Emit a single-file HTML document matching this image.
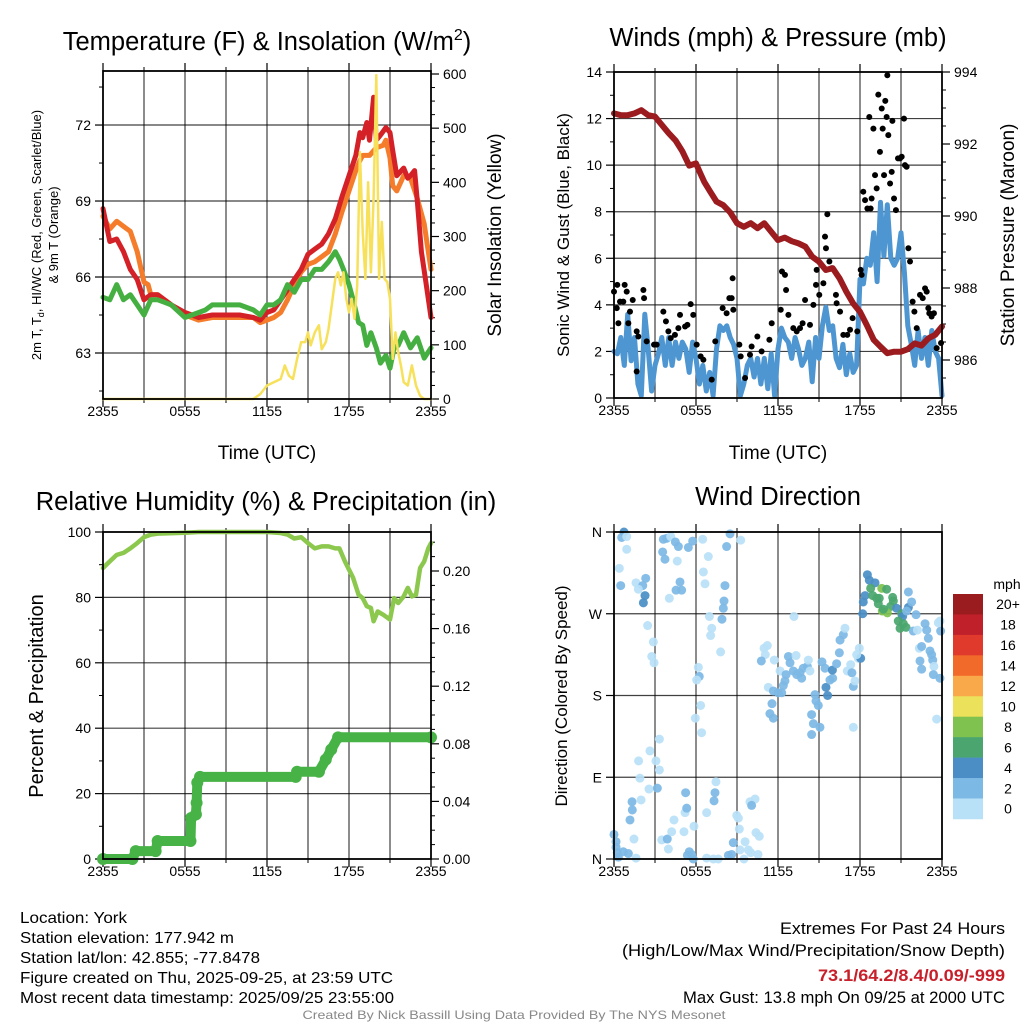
<!DOCTYPE html>
<html><head><meta charset="utf-8"><title>Station Meteogram</title>
<style>
html,body{margin:0;padding:0;background:#fff;}
svg{display:block;font-family:"Liberation Sans",Arial,sans-serif;}
</style></head>
<body>
<svg id="chart" width="1024" height="1024" viewBox="0 0 1024 1024" xmlns="http://www.w3.org/2000/svg">
<rect width="1024" height="1024" fill="#fff"/>
<g id="p1"></g>
<g id="p2"></g>
<g id="p3"></g>
<g id="p4"></g>

<text x="267" y="50" font-size="25.5" text-anchor="middle">Temperature (F) &amp; Insolation (W/m<tspan font-size="16" dy="-10">2</tspan><tspan dy="10">)</tspan></text>
<text x="778" y="46" font-size="25.5" text-anchor="middle">Winds (mph) &amp; Pressure (mb)</text>
<text x="266" y="510" font-size="25.5" text-anchor="middle">Relative Humidity (%) &amp; Precipitation (in)</text>
<text x="778" y="505" font-size="25.5" text-anchor="middle">Wind Direction</text>

<text x="267" y="459" font-size="19" text-anchor="middle">Time (UTC)</text>
<text x="778" y="459" font-size="19" text-anchor="middle">Time (UTC)</text>

<text transform="translate(41,235) rotate(-90)" font-size="13" text-anchor="middle">2m T, T<tspan font-size="9" dy="3">d</tspan><tspan dy="-3">, HI/WC (Red, Green, Scarlet/Blue)</tspan></text>
<text transform="translate(58,235) rotate(-90)" font-size="13" text-anchor="middle">&amp; 9m T (Orange)</text>
<text transform="translate(501,235) rotate(-90)" font-size="19" text-anchor="middle">Solar Insolation (Yellow)</text>
<text transform="translate(569,235) rotate(-90)" font-size="17" text-anchor="middle">Sonic Wind &amp; Gust (Blue, Black)</text>
<text transform="translate(1014,235) rotate(-90)" font-size="19" text-anchor="middle">Station Pressure (Maroon)</text>
<text transform="translate(43,696) rotate(-90)" font-size="20" text-anchor="middle">Percent &amp; Precipitation</text>
<text transform="translate(567,696) rotate(-90)" font-size="17" text-anchor="middle">Direction (Colored By Speed)</text>

<g font-size="16">
<text x="20" y="923" textLength="107" lengthAdjust="spacingAndGlyphs">Location: York</text>
<text x="20" y="943" textLength="214" lengthAdjust="spacingAndGlyphs">Station elevation: 177.942 m</text>
<text x="20" y="963" textLength="240" lengthAdjust="spacingAndGlyphs">Station lat/lon: 42.855; -77.8478</text>
<text x="20" y="983" textLength="373" lengthAdjust="spacingAndGlyphs">Figure created on Thu, 2025-09-25, at 23:59 UTC</text>
<text x="20" y="1003" textLength="374" lengthAdjust="spacingAndGlyphs">Most recent data timestamp: 2025/09/25 23:55:00</text>
</g>
<g font-size="17">
<text x="780" y="934" textLength="225" lengthAdjust="spacingAndGlyphs">Extremes For Past 24 Hours</text>
<text x="622" y="956" textLength="383" lengthAdjust="spacingAndGlyphs">(High/Low/Max Wind/Precipitation/Snow Depth)</text>
<text x="818" y="981" textLength="187" lengthAdjust="spacingAndGlyphs" fill="#c8202a" font-weight="bold">73.1/64.2/8.4/0.09/-999</text>
<text x="683" y="1003" textLength="322" lengthAdjust="spacingAndGlyphs">Max Gust: 13.8 mph On 09/25 at 2000 UTC</text>
</g>
<text x="514" y="1019" font-size="12" fill="#888" text-anchor="middle" textLength="423" lengthAdjust="spacingAndGlyphs">Created By Nick Bassill Using Data Provided By The NYS Mesonet</text>
</svg>

<script>
// ---------- Temperature panel data ----------
const timeTickLabels = ["2355","0555","1155","1755","2355"];
const tempTickLabels = [63,66,69,72];
const solarTickLabels = [0,100,200,300,400,500,600];
const redHours = [0,0.5,1,1.5,2,2.5,3,3.5,4,5,6,7,8,9,10,11,11.5,12,12.5,13,13.5,14,14.5,15,15.5,16,16.5,17,17.5,18,18.5,18.8,19,19.3,19.5,19.8,20,20.3,20.7,21,21.2,21.5,22,22.3,22.5,22.8,23,23.3,23.6,24];
const redTemps = [68.7,67.4,67.5,67.0,66.3,65.9,65.1,65.3,65.3,64.9,64.6,64.4,64.5,64.5,64.5,64.4,64.3,64.6,64.7,65.1,65.5,65.9,66.3,66.9,67.1,67.3,67.7,68.3,69.2,70.0,70.8,71.7,71.5,72.1,71.4,73.1,71.4,71.6,71.9,71.7,71.0,70.0,70.3,69.9,70.0,70.2,69.0,67.0,65.9,64.4];
const orangeHours = [0,0.5,1,1.5,2,2.5,3,3.3,3.5,4,5,6,7,8,9,10,11,11.5,12,12.5,13,13.5,14,14.5,15,15.5,16,16.5,17,17.5,18,18.5,18.8,19,19.5,20,20.5,20.7,21,21.2,21.5,22,22.5,23,23.5,23.8,24];
const orangeTemps = [68.4,67.9,68.2,68.0,67.8,67.0,65.8,65.7,65.3,65.3,64.9,64.5,64.3,64.4,64.4,64.4,64.4,64.2,64.3,64.4,64.6,65.1,65.7,66.2,66.5,66.6,66.8,67.0,67.7,68.6,69.4,70.2,70.6,70.8,70.8,71.1,71.2,71.4,70.7,69.6,69.4,70.0,69.9,69.1,68.1,67.0,66.3];
const greenHours = [0,0.5,1,1.5,2,2.5,3,3.5,4,4.5,5,6,6.5,7,7.5,8,9,10,11,11.5,12,12.5,13,13.5,14,14.5,15,15.5,16,16.5,17,17.3,17.6,18,18.3,18.7,19,19.3,19.6,20,20.3,20.7,21,21.3,21.6,22,22.5,23,23.5,24];
const greenTemps = [65.2,65.1,65.7,65.1,65.3,64.9,64.5,65.1,65.1,65.0,64.9,64.4,64.5,64.6,64.7,64.9,64.9,64.9,64.7,64.5,64.9,64.9,65.1,65.7,65.4,65.9,65.9,66.3,66.3,66.6,67.0,66.7,66.3,65.7,65.1,64.2,64.1,63.3,63.8,63.2,62.6,62.9,62.4,63.2,63.3,63.8,63.2,63.6,62.8,63.2];
const solarHours = [0,11,11.5,12,12.5,13,13.3,13.6,13.9,14.2,14.5,14.8,15,15.2,15.5,15.8,16,16.3,16.5,16.8,17,17.2,17.4,17.6,17.8,18,18.2,18.4,18.6,18.8,19,19.2,19.4,19.6,19.8,20,20.2,20.4,20.6,20.8,21,21.2,21.4,21.6,21.8,22,22.3,22.6,22.9,23.2,23.5,24];
const solarValues = [0,0,9,25,31,37,62,43,37,74,105,105,123,99,123,136,92,105,129,185,222,234,210,234,185,160,185,148,210,456,308,222,400,234,370,598,222,327,222,216,185,74,123,86,62,31,25,62,25,6,0,0];

// ---------- Wind panel data ----------
const windTickLabels = [0,2,4,6,8,10,12,14];
const pressureTickLabels = [986,988,990,992,994];
const pressureHours = [0,0.5,1,1.5,2,2.5,3,3.5,4,4.5,5,5.5,6,6.3,6.6,7,7.5,8,8.5,9,9.5,10,10.5,11,11.5,12,12.5,13,13.5,14,14.5,15,15.5,16,16.5,17,17.5,18,18.5,19,19.5,20,20.5,21,21.5,22,22.5,23,23.5,24];
const pressureValues = [992.85,992.8,992.8,992.85,992.94,992.8,992.76,992.53,992.3,992.1,991.8,991.4,991.46,991.2,990.95,990.7,990.4,990.3,990.1,989.8,989.7,989.8,989.66,989.8,989.56,989.33,989.4,989.3,989.24,989.15,988.87,988.73,988.5,988.55,988.27,987.9,987.57,987.34,986.97,986.56,986.37,986.19,986.23,986.23,986.3,986.46,986.4,986.6,986.7,986.93];
const sonicValues = [2.0,1.9,2.6,1.4,3.6,1.6,2.6,0.6,0.1,3.6,2.1,0.3,1.4,1.9,2.6,1.4,2.6,1.4,2.4,1.7,2.4,2.1,1.1,2.4,1.7,0.6,1.4,0.3,1.1,0.1,2.1,3.1,2.9,3.1,2.6,2.3,1.7,0.1,0.6,1.4,1.7,0.9,1.7,0.6,1.7,0.4,1.9,0.1,2.1,3.0,2.6,2.4,1.7,2.6,2.1,1.4,1.7,2.4,0.7,2.6,1.7,3.1,3.9,2.9,3.1,1.7,1.3,2.3,1.0,1.9,1.1,1.4,5.1,4.9,6.0,5.7,7.1,5.0,8.4,6.1,8.3,6.0,5.7,6.0,7.1,5.4,3.1,2.3,1.4,2.9,1.7,2.6,1.4,2.9,2.0,1.7,0.1];
const sonicStepHours = 0.25;
const gustHours = [0,0.2,0.24,0.44,0.32,0.68,0.78,0.93,1.05,1.17,1.37,1.66,1.78,1.66,2.15,2.2,2.39,2.93,3.12,3.61,3.8,3.98,4.15,4.46,4.71,4.83,5.2,5.37,5.61,5.8,6.05,6.34,6.54,7.15,7.41,7.95,8.24,8.44,8.61,8.68,8.73,9.17,9.27,9.59,9.95,10.07,10.49,10.8,11.37,11.54,12.2,12.29,12.51,12.59,12.76,13.12,13.37,13.61,13.8,13.98,14.34,14.59,14.78,14.83,15.02,15.32,15.44,15.51,15.61,15.76,15.93,16.24,16.29,16.54,16.78,17.07,17.27,17.46,17.8,18.05,18.12,18.24,18.37,18.54,18.78,18.85,18.68,18.98,19.1,19.22,19.34,19.46,19.59,19.66,19.76,19.85,19.95,20.0,20.07,20.2,20.32,20.37,20.49,20.63,20.78,20.93,21.05,21.22,21.29,21.41,21.54,21.66,21.85,21.98,22.15,22.39,22.59,22.76,22.88,23.0,23.07,23.24,23.41,23.61,23.93];
const gustValues = [4.57,3.86,4.86,4.14,3.21,4.14,4.86,4.57,3.21,3.71,4.21,2.86,2.64,1.14,4.64,4.29,2.43,2.29,2.29,3.71,3.29,2.86,2.57,2.71,3.0,3.57,3.07,3.14,4.03,3.57,2.29,1.79,1.64,0.79,2.43,3.86,3.64,4.29,4.29,5.14,3.79,2.29,1.79,0.86,1.86,2.21,2.64,2.0,2.5,3.21,3.79,5.43,5.29,4.64,3.57,3.0,2.86,3.0,3.21,4.21,3.14,4.0,4.86,5.5,4.43,4.93,6.93,6.43,7.89,5.86,5.57,4.43,4.07,3.71,2.71,2.71,2.93,3.43,2.86,5.5,5.29,8.86,8.5,8.14,8.14,8.57,12.07,11.57,9.57,9.0,13.03,10.57,12.43,11.57,9.57,12.76,12.07,13.86,11.29,9.21,9.71,11.9,8.57,8.07,10.29,10.29,10.36,12.0,10.0,9.93,6.43,5.86,4.14,3.71,3.0,4.43,4.29,4.71,4.57,3.86,3.64,3.5,3.64,2.14,2.36];

// ---------- Humidity panel data ----------
const rhTickLabels = [0,20,40,60,80,100];
const precipTickLabels = ["0.00","0.04","0.08","0.12","0.16","0.20"];
const rhHours = [0,0.5,1,1.5,2,2.5,3,3.5,4,6,7,12,13,13.5,14,14.5,15,15.5,16,16.5,17,17.3,17.7,18,18.3,18.7,19,19.3,19.6,19.8,20.1,20.5,21,21.3,21.6,22,22.3,22.6,22.9,23.2,23.5,23.8,24];
const rhValues = [89,91,93,93.6,95,96.6,98.4,99.2,99.5,99.8,100,100,99.7,99.2,98,98.4,96.6,95,95.6,95.6,95,95,91,88.5,86,80.8,79.8,77.3,76.8,72.7,75.7,74.7,73.2,79.8,78.3,80.3,82.9,80.3,80.8,89,91,95,96.6];
const precipHours = [0,2.15,2.4,3.85,4.0,6.4,6.45,6.8,6.85,6.9,7.1,14.1,14.2,15.8,16.3,16.7,17.2,24];
const precipValues = [0,0,0.0055,0.0055,0.0125,0.0125,0.0285,0.031,0.039,0.053,0.057,0.057,0.0606,0.0606,0.069,0.076,0.0845,0.0845];

// ---------- Direction panel data ----------
const dirTickLabels = ["N","E","S","W","N"];
const speedBinLabels = ["0","2","4","6","8","10","12","14","16","18","20+"];
const dirHours = [0.73,0.56,0.93,0.93,0.39,0.49,1.61,2.1,1.78,2.32,2.27,2.15,3.61,3.85,4.15,3.56,3.73,4.49,4.71,4.63,5.44,5.76,6.49,4.83,4.54,4.95,4.05,6.9,6.54,6.66,8.49,8.24,9.27,8.12,8.05,8.0,7.9,6.98,7.15,7.07,7.8,2.46,2.88,2.76,2.93,6.17,6.24,6.05,6.34,5.95,6.41,3.32,2.63,3.07,1.8,3.32,1.9,2.56,3.17,1.32,1.98,1.34,1.17,1.46,0.0,0.15,0.15,0.24,0.68,1.05,0.32,1.61,3.49,3.9,3.98,4.22,4.39,5.12,5.2,5.32,5.24,5.85,5.51,5.68,5.37,5.8,6.78,7.46,7.39,7.32,6.78,7.27,7.63,8.37,8.61,8.73,8.98,9.1,9.17,9.59,9.51,9.83,10.0,9.95,10.32,10.07,10.39,10.63,10.54,9.22,10.98,11.22,11.07,10.78,11.73,12.15,12.76,13.32,12.88,12.59,12.51,12.39,13.12,13.37,13.61,13.73,13.85,14.15,14.22,14.34,11.29,11.66,12.02,12.27,11.56,11.41,11.66,13.17,14.46,14.59,14.46,15.07,14.71,14.78,14.95,15.22,15.44,15.51,15.63,15.8,16.0,15.98,16.29,16.49,16.54,16.78,16.9,17.07,17.32,17.41,17.51,17.63,17.51,17.88,18.05,17.95,17.76,18.2,18.24,18.37,18.54,18.68,19.1,18.78,18.93,19.22,19.41,19.34,19.59,19.95,20.39,20.44,20.24,19.63,20.0,19.71,20.68,21.05,21.12,20.8,21.17,20.93,21.37,21.54,21.54,21.78,21.41,21.9,22.2,22.1,22.76,22.88,23.0,22.34,22.51,23.12,23.24,23.32,22.39,22.51,23.41,23.37,23.85,23.9,23.73,23.85,23.61];
const dirDegrees = [360,354,355,341,320,301,304,301,297,309,290,282,352,353,355,338,330,349,344,328,343,350,352,305,296,296,287,333,316,303,358,344,351,301,284,276,264,267,254,246,228,257,239,223,216,211,201,197,169,155,139,132,119,108,108,98,89,77,78,63,65,54,43,22,27,19,13,7,8,6,2,1,21,22,11,30,43,30,51,56,73,36,8,5,4,0,51,85,73,64,1,0,0,4,5,18,48,45,33,19,0,10,7,63,66,59,29,25,5,10,232,235,225,218,219,207,223,224,216,203,196,191,207,203,205,199,210,212,219,207,189,185,183,183,171,160,155,267,159,149,137,145,181,174,169,217,210,189,180,197,199,208,215,227,241,247,254,207,214,205,190,196,145,221,221,232,225,270,283,290,313,307,304,298,290,287,287,281,298,297,288,284,278,273,271,275,276,270,267,262,259,254,255,294,277,283,273,251,252,269,259,252,243,232,234,229,225,219,218,209,212,203,262,251,260,199,154];
const dirSpeeds = [5,3,1,1,1,3,1,3,1,3,5,5,3,3,1,3,3,3,3,1,3,3,1,3,3,3,1,1,1,1,3,3,1,3,3,3,3,1,1,1,1,1,1,1,1,1,3,1,1,1,1,1,1,1,1,1,1,1,3,3,1,3,3,1,3,3,3,3,3,3,3,1,1,3,1,1,1,1,1,3,3,1,3,3,3,3,1,1,3,3,1,1,1,3,3,3,1,1,1,1,1,1,1,1,1,3,1,1,1,1,1,1,1,3,1,1,3,1,3,3,3,3,3,3,3,3,3,3,1,1,1,3,3,3,3,3,3,1,3,3,3,3,3,3,3,3,3,5,5,3,3,5,3,3,3,3,1,1,1,3,3,1,1,1,5,1,1,5,5,5,5,5,5,7,7,7,7,7,9,7,7,7,7,9,9,7,5,7,5,7,7,7,7,3,5,3,3,3,1,3,3,3,3,1,3,3,3,3,3,3,1,3,1,3,1,3,1];

const NS = "http://www.w3.org/2000/svg";
function mk(parent, tag, attrs){ const e=document.createElementNS(NS,tag); for(const k in attrs) e.setAttribute(k,attrs[k]); parent.appendChild(e); return e; }
const binColors = ["#b8e1f7","#7db9e5","#4a8ec5","#4aa66e","#7fc24f","#ebe15a","#f9a94a","#f26a2a","#e03a2d","#c0202a","#9b1c1f"];

function frame(g, x0, x1, y0, y1, hGridYs){
  for(let i=1;i<8;i++){ const x=x0+(x1-x0)*i/8;
    const l=mk(g,"line",{x1:x,x2:x,y1:y0,y2:y1,stroke:"#000","stroke-width":1.2,"stroke-opacity":0.75});
     
    mk(g,"line",{x1:x,x2:x,y1:y1,y2:y1+4,stroke:"#000","stroke-width":1});
    mk(g,"line",{x1:x,x2:x,y1:y0,y2:y0-4,stroke:"#000","stroke-width":1});
  }
  for(const y of hGridYs){
    const l=mk(g,"line",{x1:x0,x2:x1,y1:y,y2:y,stroke:"#000","stroke-width":1.2,"stroke-opacity":0.75});
     
  }
  for(let i=0;i<5;i++){ const x=x0+(x1-x0)*i/4;
    mk(g,"line",{x1:x,x2:x,y1:y1,y2:y1+8,stroke:"#000","stroke-width":1.2});
    mk(g,"line",{x1:x,x2:x,y1:y0,y2:y0-8,stroke:"#000","stroke-width":1.2});
    const t=mk(g,"text",{x:x,y:y1+17,"font-size":14,"text-anchor":"middle"}); t.textContent=timeTickLabels[i];
     
  }
}
function border(g,x0,x1,y0,y1){
  const r=mk(g,"rect",{x:x0,y:y0,width:x1-x0,height:y1-y0,fill:"none",stroke:"#000","stroke-width":1.8});
   
}
function yTicks(g, x, side, ys, labels, minorYs){
  const d = side==="left"?-1:1;
  ys.forEach((y,i)=>{
    mk(g,"line",{x1:x,x2:x+d*8,y1:y,y2:y,stroke:"#000","stroke-width":1.2});
    const t=mk(g,"text",{x:x+d*12,y:y+5,"font-size":14,"text-anchor":side==="left"?"end":"start"}); t.textContent=labels[i];
     
  });
  (minorYs||[]).forEach(y=>mk(g,"line",{x1:x,x2:x+d*4,y1:y,y2:y,stroke:"#000","stroke-width":1}));
}
function path(g, xs, ys, color, w, name){
  let d=""; xs.forEach((x,i)=>{ d+=(i?"L":"M")+x.toFixed(1)+","+ys[i].toFixed(1); });
  const p=mk(g,"path",{d:d,fill:"none",stroke:color,"stroke-width":w,"stroke-linejoin":"round","stroke-linecap":"round"});
   
  return p;
}

// ===== Panel 1 =====
(function(){
  const g=document.getElementById("p1");
  const x0=103,x1=431,y0=71,y1=399;
  const xT=t=>x0+(x1-x0)*t/24;
  const yT=v=>353-(v-63)*25.33;
  const yS=v=>y1-v*(y1-74)/600;
  frame(g,x0,x1,y0,y1,tempTickLabels.map(yT));
  const minors=[]; for(let v=61.5;v<74.2;v+=1.5){ if(v%3!==0) minors.push(yT(v)); }
  yTicks(g,x0,"left",tempTickLabels.map(yT),tempTickLabels,minors);
  const sm=[]; for(let v=25;v<=600;v+=25){ if(v%100!==0) sm.push(yS(v)); }
  yTicks(g,x1,"right",solarTickLabels.map(yS),solarTickLabels,sm);
  path(g,orangeHours.map(xT),orangeTemps.map(yT),"#f47c2a",5,"nine-meter-temp-line");
  path(g,redHours.map(xT),redTemps.map(yT),"#d42027",5,"two-meter-temp-line");
  path(g,greenHours.map(xT),greenTemps.map(yT),"#45b041",5,"heat-index-line");
  path(g,solarHours.map(xT),solarValues.map(yS),"#f7e15a",2.5,"solar-insolation-line");
  border(g,x0,x1,y0,y1);
})();

// ===== Panel 2 =====
(function(){
  const g=document.getElementById("p2");
  const x0=614,x1=942,y0=72,y1=398;
  const xT=t=>x0+(x1-x0)*t/24;
  const yW=v=>y1-v*(y1-y0)/14;
  const yP=v=>72+(994-v)*36;
  frame(g,x0,x1,y0,y1,windTickLabels.slice(1,7).map(yW));
  const wm=[]; for(let v=1;v<14;v+=2) wm.push(yW(v));
  yTicks(g,x0,"left",windTickLabels.map(yW),windTickLabels,wm);
  const pm=[]; for(let v=985.5;v<994;v+=0.5){ if(v%2!==0) pm.push(yP(v)); }
  yTicks(g,x1,"right",pressureTickLabels.map(yP),pressureTickLabels,pm);
  path(g,sonicValues.map((v,i)=>xT(i*sonicStepHours)),sonicValues.map(yW),"#4e96d1",5,"sonic-wind-line");
  gustHours.forEach((t,i)=>{
    const c=mk(g,"circle",{cx:xT(t),cy:yW(gustValues[i]),r:3,fill:"#000"});
     
  });
  path(g,pressureHours.map(xT),pressureValues.map(yP),"#9b1b1e",6,"station-pressure-line");
  border(g,x0,x1,y0,y1);
})();

// ===== Panel 3 =====
(function(){
  const g=document.getElementById("p3");
  const x0=103,x1=431,y0=532,y1=859;
  const xT=t=>x0+(x1-x0)*t/24;
  const yR=v=>y1-v*(y1-y0)/100;
  const yPr=v=>y1-v*1440;
  frame(g,x0,x1,y0,y1,rhTickLabels.slice(1,5).map(yR));
  const rm=[]; for(let v=10;v<100;v+=20) rm.push(yR(v));
  yTicks(g,x0,"left",rhTickLabels.map(yR),rhTickLabels,rm);
  const prm=[]; for(let v=0.01;v<0.225;v+=0.01){ if(Math.round(v*100)%4!==0) prm.push(yPr(v)); }
  yTicks(g,x1,"right",precipTickLabels.map(Number).map(yPr),precipTickLabels,prm);
  path(g,rhHours.map(xT),rhValues.map(yR),"#8cc84e",4.5,"relative-humidity-line");
  path(g,precipHours.map(xT),precipValues.map(yPr),"#47b347",10,"precipitation-line");
  precipHours.forEach((t,i)=>{
    const c=mk(g,"circle",{cx:xT(t),cy:yPr(precipValues[i]),r:6,fill:"#47b347"});
     
  });
  border(g,x0,x1,y0,y1);
})();

// ===== Panel 4 =====
(function(){
  const g=document.getElementById("p4");
  const x0=614,x1=942,y0=532,y1=859;
  const xT=t=>x0+(x1-x0)*t/24;
  const yD=v=>y1-v*(y1-y0)/360;
  const dirTickDegs=[0,90,180,270,360];
  frame(g,x0,x1,y0,y1,[90,180,270].map(yD));
  yTicks(g,x0,"left",dirTickDegs.map(yD),dirTickLabels,[]);
  dirHours.forEach((t,i)=>{
    const s=dirSpeeds[i];
    const c=mk(g,"circle",{cx:xT(t),cy:yD(dirDegrees[i]),r:4.5,fill:binColors[Math.min(10,Math.floor(s/2))],"fill-opacity":0.92});
     
  });
  border(g,x0,x1,y0,y1);
  const cb=mk(g,"g",{});
   
  const t0=mk(cb,"text",{x:1007,y:589,"font-size":14,"text-anchor":"middle"}); t0.textContent="mph";
   
  const top=594,h=20.45;
  for(let k=0;k<11;k++){
    const idx=10-k;
    const r=mk(cb,"rect",{x:953,y:top+k*h,width:30,height:h+0.3,fill:binColors[idx]});
     
    const t=mk(cb,"text",{x:1008,y:top+k*h+h/2+5,"font-size":14,"text-anchor":"middle"}); t.textContent=speedBinLabels[idx];
     
  }
})();
</script>
</body></html>
